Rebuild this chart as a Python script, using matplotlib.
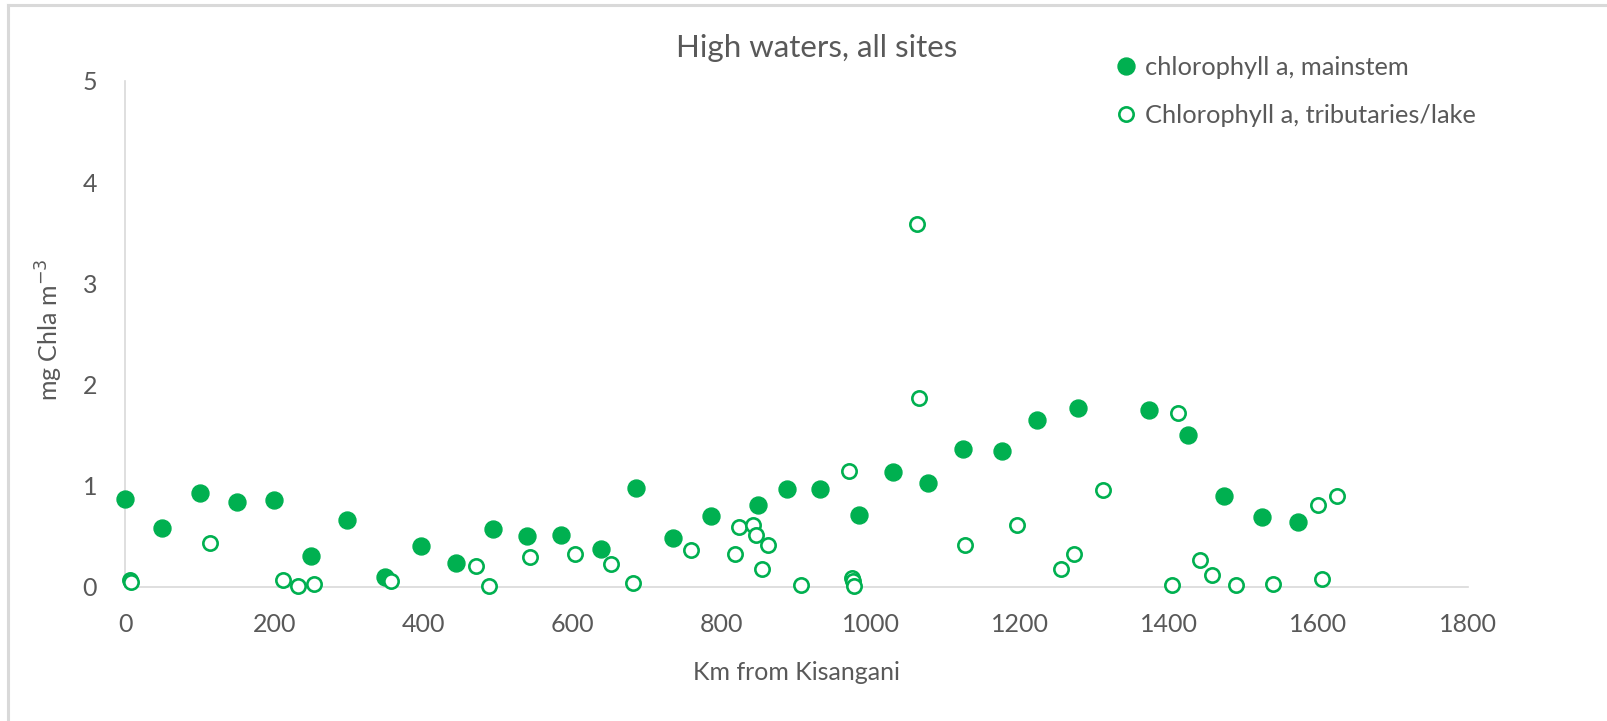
import matplotlib
matplotlib.use("Agg")
import matplotlib.pyplot as plt
from matplotlib.lines import Line2D

# Mainstem chlorophyll a (km from Kisangani, mg Chla m-3)
main_km = [0, 49, 100, 150, 200, 249, 298, 348, 397, 444, 493, 539, 585, 638,
           685, 735, 785, 848, 888, 932, 984, 1029, 1077, 1124, 1176, 1223,
           1278, 1373, 1425, 1473, 1524, 1572]
main_chla = [0.87, 0.58, 0.93, 0.84, 0.86, 0.31, 0.66, 0.10, 0.40, 0.24, 0.57,
             0.50, 0.51, 0.38, 0.98, 0.48, 0.70, 0.81, 0.97, 0.97, 0.71, 1.14,
             1.03, 1.36, 1.34, 1.65, 1.77, 1.75, 1.50, 0.90, 0.69, 0.64]

# Tributaries / lake chlorophyll a
trib_km = [7, 8, 114, 212, 232, 254, 356, 470, 488, 543, 603, 651, 681, 759,
           818, 823, 842, 846, 862, 854, 906, 971, 975, 976, 977, 1062, 1065,
           1126, 1196, 1255, 1272, 1311, 1412, 1404, 1441, 1457, 1490, 1539,
           1599, 1625, 1605]
trib_chla = [0.07, 0.05, 0.43, 0.07, 0.01, 0.03, 0.06, 0.21, 0.01, 0.30, 0.33,
             0.23, 0.04, 0.37, 0.33, 0.59, 0.61, 0.51, 0.41, 0.18, 0.02, 1.15,
             0.09, 0.06, 0.01, 3.59, 1.87, 0.41, 0.61, 0.18, 0.33, 0.96, 1.72,
             0.02, 0.27, 0.12, 0.02, 0.03, 0.81, 0.90, 0.08]

x_ticks = [0, 200, 400, 600, 800, 1000, 1200, 1400, 1600, 1800]
y_ticks = [0, 1, 2, 3, 4, 5]

GREEN = "#00B050"
TEXT = "#595959"
GRID = "#D9D9D9"
FONT = ["Lato", "DejaVu Sans"]

plt.rcParams["font.family"] = FONT

fig = plt.figure(figsize=(16.07, 7.21), dpi=100)
ax = fig.add_axes([0.0778, 0.1859, 0.8355, 0.7018])

ax.plot(main_km, main_chla, linestyle="none", marker="o", markersize=12.2,
        markerfacecolor=GREEN, markeredgecolor=GREEN, markeredgewidth=1,
        clip_on=False, zorder=3)
ax.plot(trib_km, trib_chla, linestyle="none", marker="o", markersize=10.3,
        markerfacecolor="white", markeredgecolor=GREEN, markeredgewidth=1.9,
        clip_on=False, zorder=3)

ax.set_xlim(0, 1800)
ax.set_ylim(0, 5)
ax.set_xticks(x_ticks)
ax.set_yticks(y_ticks)
ax.tick_params(length=0, labelsize=18, labelcolor=TEXT)
ax.tick_params(axis="x", pad=19)
ax.tick_params(axis="y", pad=20)

for side in ("top", "right"):
    ax.spines[side].set_visible(False)
for side in ("left", "bottom"):
    ax.spines[side].set_color(GRID)
    ax.spines[side].set_linewidth(1.2)

fig.text(0.4955, 1 - 672 / 721, "Km from Kisangani", fontsize=18,
         color=TEXT, ha="center", va="center")
fig.text(0.031, 1 - 330 / 721, "mg Chla m$^{-3}$", rotation=90, fontsize=18,
         color=TEXT, ha="center", va="center")

fig.text(0.508, 0.933, "High waters, all sites", fontsize=22.5, color=TEXT,
         ha="center", va="center")

handles = [
    Line2D([], [], linestyle="none", marker="o", markersize=12.2,
           markerfacecolor=GREEN, markeredgecolor=GREEN),
    Line2D([], [], linestyle="none", marker="o", markersize=10.3,
           markerfacecolor="white", markeredgecolor=GREEN, markeredgewidth=1.9),
]
labels = ["chlorophyll a, mainstem", "Chlorophyll a, tributaries/lake"]
leg = fig.legend(handles, labels, loc="upper left",
                 bbox_to_anchor=(0.689, 0.937), frameon=False, fontsize=18.3,
                 handlelength=0.7, handletextpad=0.4, labelspacing=1.0,
                 borderaxespad=0)
for t in leg.get_texts():
    t.set_color(TEXT)

# Chart-area border along the top and left edges
fig.add_artist(Line2D([0.005, 1.0], [0.993, 0.993], transform=fig.transFigure,
                      color=GRID, linewidth=2.2))
fig.add_artist(Line2D([0.005, 0.005], [0.0, 0.993], transform=fig.transFigure,
                      color=GRID, linewidth=2.2))

fig.savefig("out.png", dpi=100, facecolor="white")
